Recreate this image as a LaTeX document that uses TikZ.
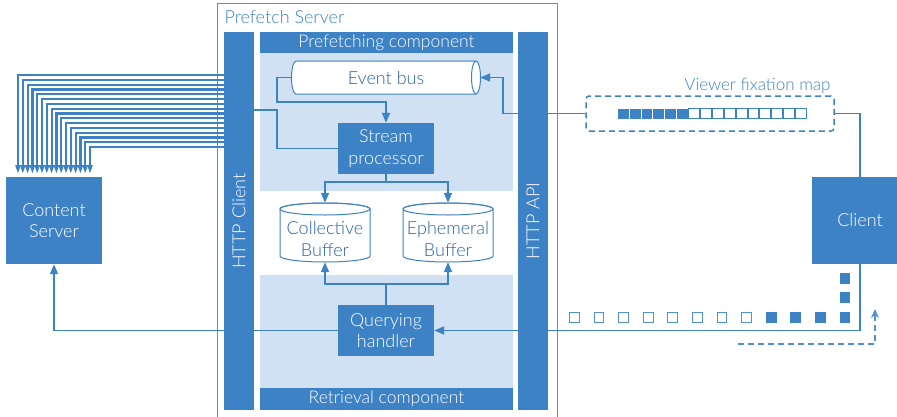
\documentclass[tikz,border=0pt]{standalone}
\usepackage{fontspec}
\IfFontExistsTF{Lato Light}{\setmainfont{Lato Light}}{\setmainfont{Lato}}
\usetikzlibrary{arrows.meta,calc}
\definecolor{bd}{RGB}{62,130,198}
\definecolor{bl}{RGB}{207,225,242}
\definecolor{bt}{RGB}{44,98,164}
\definecolor{bo}{RGB}{80,145,210}
\pgfdeclarelayer{back}\pgfdeclarelayer{conn}\pgfsetlayers{back,conn,main}
\begin{document}
\begin{tikzpicture}[x=1pt,y=-1pt,
  fnt/.style={font=\fontsize{18}{21.5}\selectfont},
  darkbox/.style={fill=bd,text=white,inner sep=0pt,align=center,fnt},
  region/.style={fill=bl,inner sep=0pt,minimum width=253pt},
  hdr/.style={fill=bd,text=white,inner sep=0pt,minimum width=253pt,font=\fontsize{17.5}{19}\selectfont},
  bar/.style={fill=bd,inner sep=0pt,minimum width=30pt,minimum height=378pt},
  conn/.style={draw=bd,line width=1.8pt},
  arr/.style={conn,-{Triangle[length=10pt,width=8pt]}},
  fan/.style={draw=bd,line width=2.2pt,-{Triangle[length=9pt,width=5pt]}},
  cyl/.style={fill=white,draw=bd,line width=1pt},
  cyltext/.style={text=bt,align=center,fnt},
  blank/.style={inner sep=0pt}
]
\useasboundingbox (0,0) rectangle (897,416);
\begin{pgfonlayer}{back}
  \draw[bo,line width=1pt] (217,3) -- (217,420) (217,3) -- (557,3) -- (557,420);
  \node[region,minimum height=159pt] (preR) at (386.5,111.5) {};
  \node[region,minimum height=135pt] (retR) at (386.5,342.5) {};
\end{pgfonlayer}

\node[anchor=base west,text=bd,font=\fontsize{18}{21}\selectfont] (psl) at (221,23.5) {Prefetch Server};
\node[hdr,minimum height=21pt] (preH) at (386.5,42.5) {Prefetching component};
\node[hdr,minimum height=22pt] (retH) at (386.5,399) {Retrieval component};

\node[bar] (hc) at (239,221) {};
\node[text=white,rotate=90,fnt] (hct) at (hc) {HTTP Client};
\node[bar] (api) at (533,221) {};
\node[text=white,rotate=90,fnt] (apit) at (api) {HTTP API};

\node[darkbox,minimum width=96pt,minimum height=51pt] (sp) at (386,148.5) {Stream\\processor};
\node[darkbox,minimum width=96pt,minimum height=51pt] (qh) at (386,330.5) {Querying\\handler};
\node[darkbox,minimum width=96pt,minimum height=87pt] (cs) at (54,220.5) {Content\\Server};
\node[darkbox,minimum width=96pt,minimum height=87pt] (cl) at (860,220.5) {Client};

% event bus
\path[cyl] (476,61) -- (296,61) arc[start angle=-90,end angle=-270,x radius=4.5,y radius=16.5]
  -- (476,94) arc[start angle=90,end angle=-90,x radius=4.5,y radius=16.5] -- cycle;
\draw[bd,line width=1pt] (476,61) arc[start angle=-90,end angle=-270,x radius=4.5,y radius=16.5];
\node[blank,minimum width=188pt,minimum height=33pt] (eb) at (386,77.5) {};
\node[cyltext] (ebt) at (386,78) {Event bus};

% buffers
\path[cyl] (280,209) -- (280,256) arc[start angle=180,end angle=0,x radius=45,y radius=6]
  -- (370,209) arc[start angle=0,end angle=-180,x radius=45,y radius=6] -- cycle;
\draw[bd,line width=1pt] (325,209) ellipse[x radius=45,y radius=6];
\node[blank,minimum width=90pt,minimum height=59pt] (cb) at (325,232.5) {};
\node[cyltext] (cbt) at (325,239) {Collective\\Buffer};

\path[cyl] (403,209) -- (403,256) arc[start angle=180,end angle=0,x radius=45,y radius=6]
  -- (493,209) arc[start angle=0,end angle=-180,x radius=45,y radius=6] -- cycle;
\draw[bd,line width=1pt] (448,209) ellipse[x radius=45,y radius=6];
\node[blank,minimum width=90pt,minimum height=59pt] (eph) at (448,232.5) {};
\node[cyltext] (epht) at (448,239) {Ephemeral\\Buffer};

% fixation map
\node[draw=bd,line width=1.5pt,dash pattern=on 6pt off 4pt,rounded corners=3pt,
      minimum width=248pt,minimum height=35pt,inner sep=0pt] (fm) at (710,113.5) {};
\node[anchor=base east,text=bd,font=\fontsize{17}{19}\selectfont] (fml) at (834,90.5) {Viewer fixation map};
\foreach \i in {0,...,5}
  \fill[bd] (617+11.87*\i,108) rectangle ++(11.87,11);
\foreach \i in {0,...,5}
  \draw[white,line width=0.4pt] (617+11.87*\i,108) rectangle ++(11.87,11);
\foreach \i in {6,...,15}
  \draw[bd,fill=white,line width=1pt] (617.5+11.87*\i,108.5) rectangle ++(10.9,10);

% bottom-right squares
\foreach \i in {0,...,7}
  \draw[bo,line width=1pt] (569.5+24.6*\i,312.5) rectangle ++(9.8,9.8);
\foreach \i in {8,...,11}
  \fill[bd] (569+24.6*\i,312) rectangle ++(10.8,10.8);
\fill[bd] (839.6,292.3) rectangle ++(10.8,10.8);
\fill[bd] (839.6,272.7) rectangle ++(10.8,10.8);
\coordinate (dstart) at (738,344);
\coordinate (dend) at (875,309);
\draw[bo,line width=1.5pt,dash pattern=on 6pt off 4pt,-{Stealth[length=9pt,width=8pt,inset=3pt]}] (dstart) -| (dend);

\coordinate (j1) at (503,0);
\coordinate (j2) at (277,102);
\coordinate (j3) at (277,110);

\begin{pgfonlayer}{conn}
  \draw[arr] (fm.west) -| (j1 |- eb.east) -- (eb.east);
  \draw[conn] (fm.east) -| (cl.north);
  \draw[arr] (eb.west) -| (j2) -| (sp.north);
  \draw[conn] (hc.east |- j3) -- (j3) |- (sp.west);
  \draw[arr] (sp.south) -- ++(0,8) -| (cb.north);
  \draw[arr] (sp.south) -- ++(0,8) -| (eph.north);
  \draw[arr] (qh.north) -- ++(0,-21) -| (cb.south);
  \draw[arr] (qh.north) -- ++(0,-21) -| (eph.south);
  \draw[arr] (cl.south) |- (qh.east);
  \draw[arr] (qh.west) -| (cs.south);
  \foreach \i in {0,...,15}{
    \pgfmathsetmacro\yy{75+4.8*\i}
    \pgfmathsetmacro\xx{18+4.8*\i}
    \draw[fan] (hc.west |- 0,\yy) -- (\xx,\yy) -- (\xx,174);
  }
\end{pgfonlayer}
\end{tikzpicture}
\end{document}
